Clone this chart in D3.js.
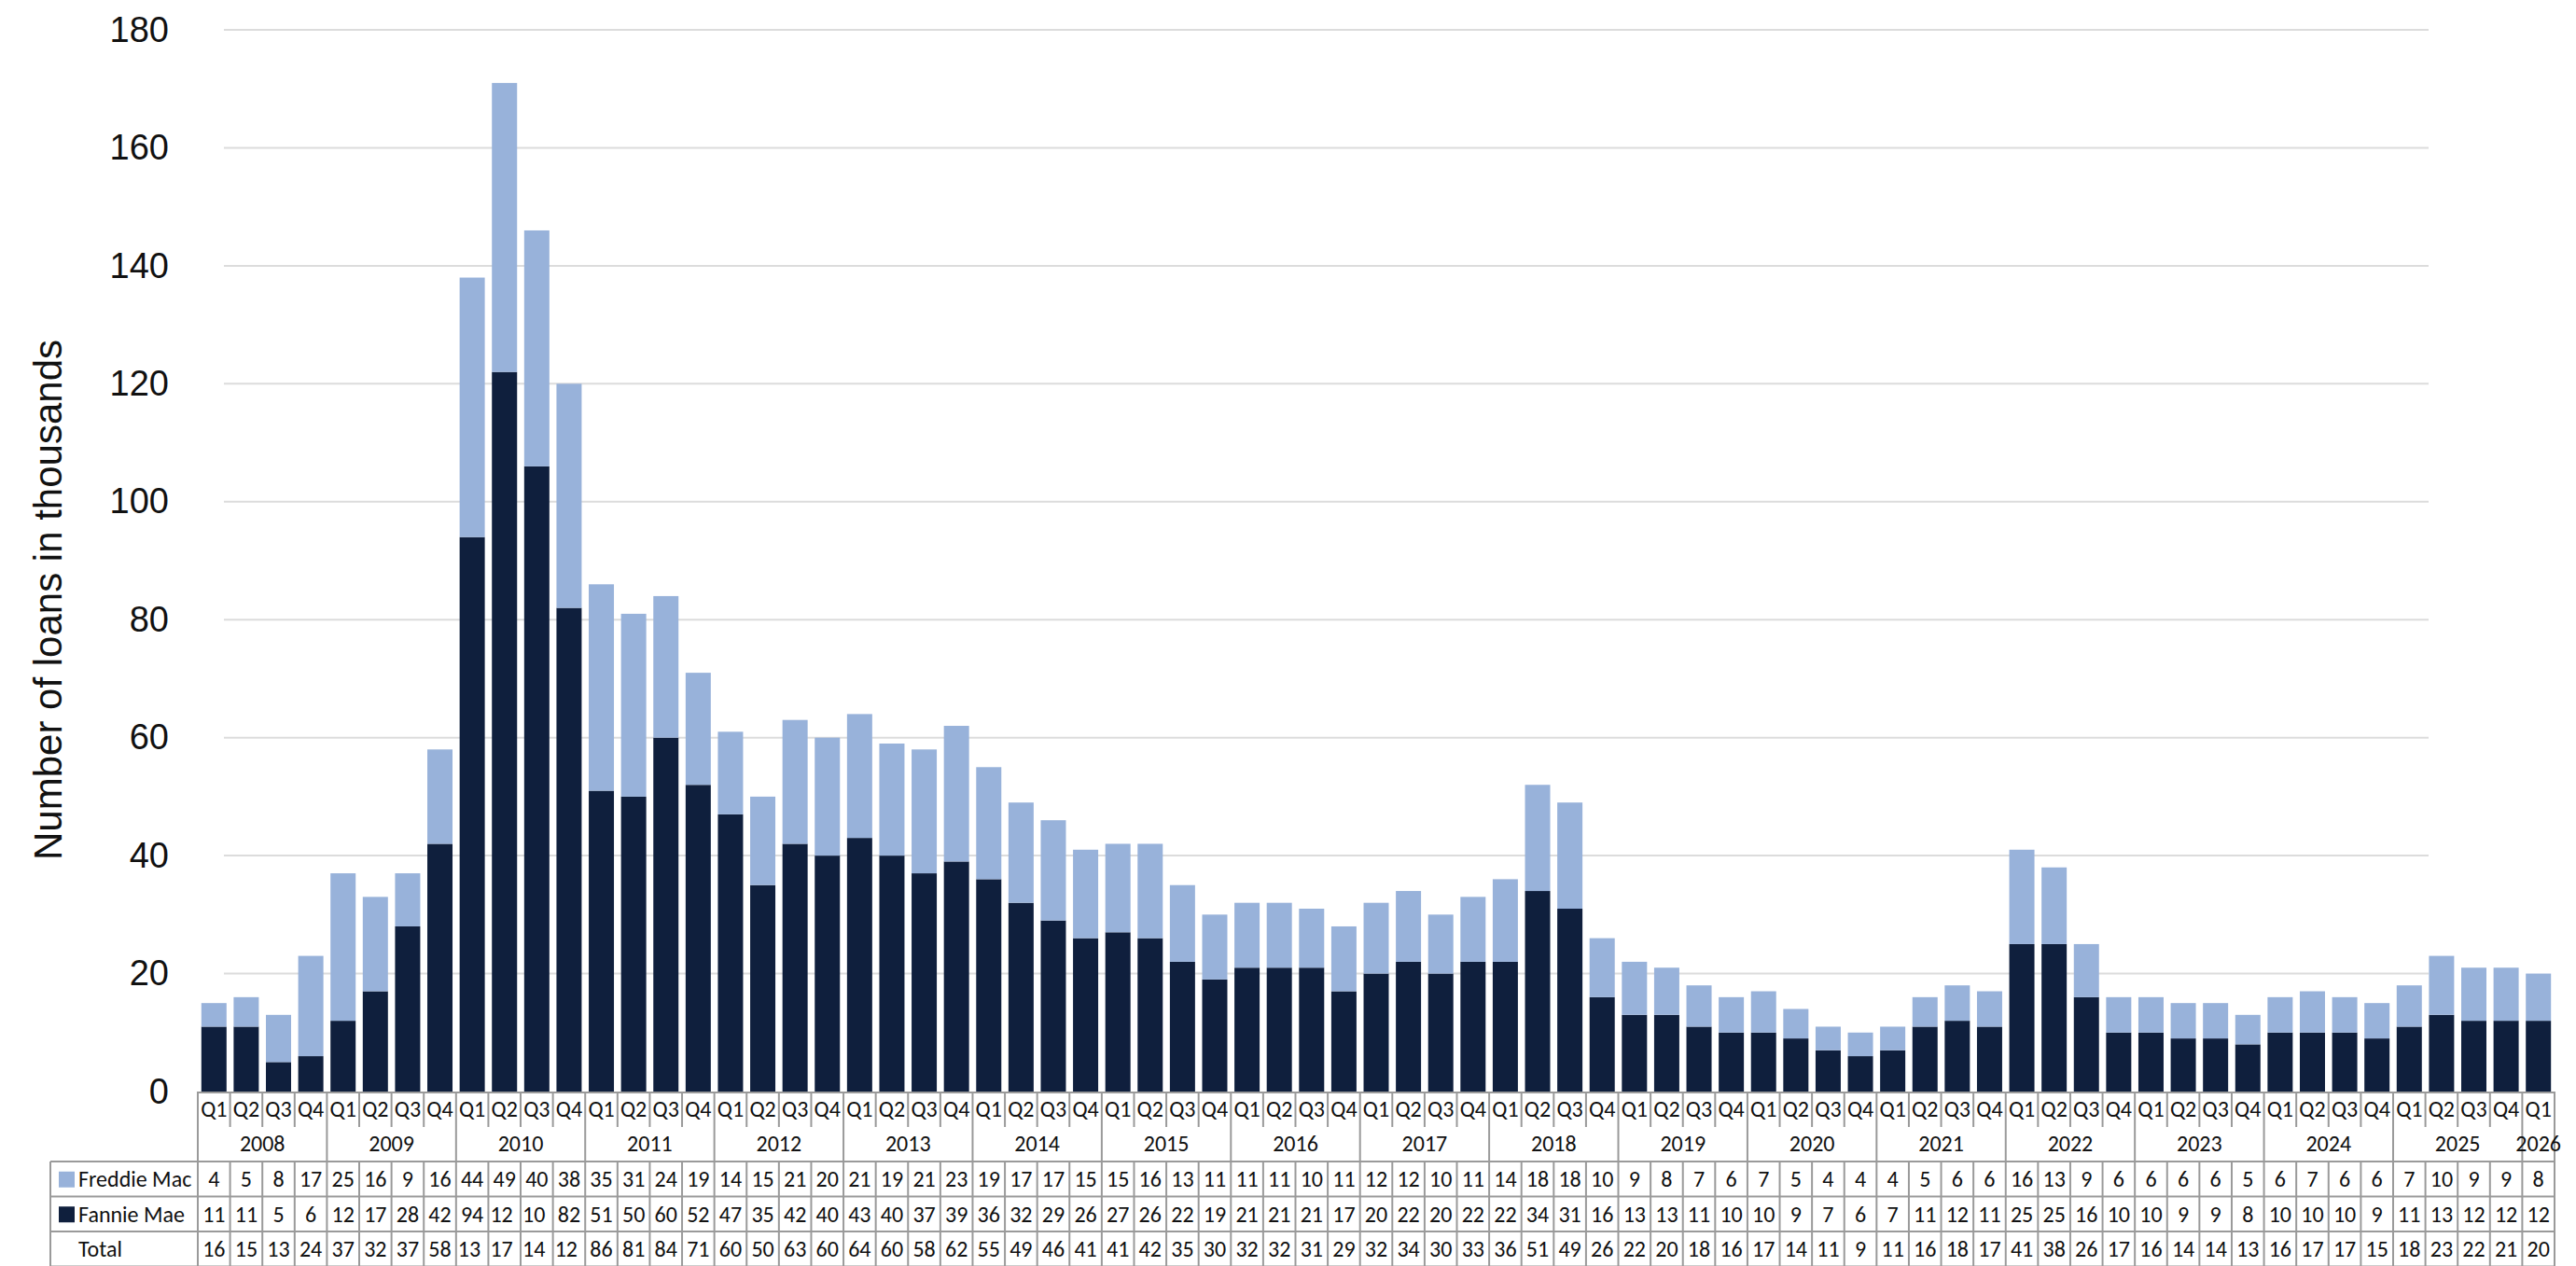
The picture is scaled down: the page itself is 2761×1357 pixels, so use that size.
<!DOCTYPE html>
<html>
<head>
<meta charset="utf-8">
<script src="https://cdn.jsdelivr.net/npm/d3@7/dist/d3.min.js"></script>
<style>
  html, body { margin: 0; padding: 0; background: #ffffff; }
  svg { display: block; }
</style>
</head>
<body>
<svg id="chart" width="2761" height="1357"></svg>
<script>
// Quarterly loan counts (thousands), Q1 2008 through Q1 2026
const years = ["2008","2009","2010","2011","2012","2013","2014","2015","2016",
               "2017","2018","2019","2020","2021","2022","2023","2024","2025","2026"];
const quarterLabels = ["Q1","Q2","Q3","Q4"];

const freddieMac = [4,5,8,17, 25,16,9,16, 44,49,40,38, 35,31,24,19, 14,15,21,20,
                    21,19,21,23, 19,17,17,15, 15,16,13,11, 11,11,10,11, 12,12,10,11,
                    14,18,18,10, 9,8,7,6, 7,5,4,4, 4,5,6,6, 16,13,9,6,
                    6,6,6,5, 6,7,6,6, 7,10,9,9, 8];

const fannieMae = [11,11,5,6, 12,17,28,42, 94,122,106,82, 51,50,60,52, 47,35,42,40,
                   43,40,37,39, 36,32,29,26, 27,26,22,19, 21,21,21,17, 20,22,20,22,
                   22,34,31,16, 13,13,11,10, 10,9,7,6, 7,11,12,11, 25,25,16,10,
                   10,9,9,8, 10,10,10,9, 11,13,12,12, 12];

const totals = [16,15,13,24, 37,32,37,58, 138,171,146,120, 86,81,84,71, 60,50,63,60,
                64,60,58,62, 55,49,46,41, 41,42,35,30, 32,32,31,29, 32,34,30,33,
                36,51,49,26, 22,20,18,16, 17,14,11,9, 11,16,18,17, 41,38,26,17,
                16,14,14,13, 16,17,17,15, 18,23,22,21, 20];

const yTicks = [0,20,40,60,80,100,120,140,160,180];

const colors = { "Freddie Mac": "#98b2da", "Fannie Mae": "#0f1f3d" };

// ---- derived records ----
const periods = years.flatMap(y => quarterLabels.map(q => ({ year: y, quarter: q })))
  .slice(0, freddieMac.length)
  .map((p, i) => ({ ...p, i, "Fannie Mae": fannieMae[i], "Freddie Mac": freddieMac[i], total: totals[i] }));

const svg = d3.select("#chart");

const plotLeft = 212, plotRight = 2738;
const yBase = 1170, yTop = 32;

const x = d3.scaleBand()
  .domain(periods.map(d => d.i))
  .range([plotLeft, plotRight])
  .paddingInner(0.22)
  .paddingOuter(0.11);

const y = d3.scaleLinear().domain([0, 180]).range([yBase, yTop]);

const step = x.step();
const colLeft = i => x(i) - (step - x.bandwidth()) / 2;

// ---- gridlines ----
const gridLeft = 240, gridRight = 2603;
svg.append("g")
  .selectAll("line")
  .data(yTicks.filter(t => t > 0))
  .join("line")
  .attr("x1", gridLeft).attr("x2", gridRight)
  .attr("y1", d => y(d)).attr("y2", d => y(d))
  .attr("stroke", "#dcdcdc")
  .attr("stroke-width", 2);

// ---- y axis labels ----
const yAxis = d3.axisLeft(y).tickValues(yTicks).tickSize(0).tickPadding(0);
const yAxisG = svg.append("g").attr("transform", "translate(181,0)").call(yAxis);
yAxisG.select(".domain").remove();
yAxisG.selectAll("text")
  .attr("font-family", "'Liberation Sans', Arial, sans-serif")
  .attr("font-size", 38)
  .attr("fill", "#111");

svg.append("text")
  .attr("transform", `translate(66,643) rotate(-90)`)
  .attr("text-anchor", "middle")
  .attr("font-family", "'Liberation Sans', Arial, sans-serif")
  .attr("font-size", 42)
  .attr("fill", "#111")
  .text("Number of loans in thousands");

// ---- stacked bars ----
const stack = d3.stack().keys(["Fannie Mae", "Freddie Mac"]);
const layers = stack(periods);

svg.append("g")
  .selectAll("g")
  .data(layers)
  .join("g")
  .attr("fill", d => colors[d.key])
  .selectAll("rect")
  .data(d => d)
  .join("rect")
  .attr("x", d => x(d.data.i))
  .attr("width", x.bandwidth())
  .attr("y", d => y(d[1]))
  .attr("height", d => y(d[0]) - y(d[1]));

// ---- category axis + data table ----
const tableFont = "Carlito, Lato, 'Open Sans', sans-serif";
const cellFontSize = 24;
const lineColor = "#9a9a9a";
const qRowY = 1189, yearRowY = 1226;
const tableTop = 1245, rowH = 37.5;
const tableBottom = 1357;
const labelLeft = 54;

const grid = svg.append("g").attr("stroke", lineColor).attr("stroke-width", 2);

// axis line under bars
grid.append("line").attr("x1", plotLeft).attr("x2", plotRight).attr("y1", yBase + 1).attr("y2", yBase + 1);

// quarter separators (short) and year separators (full height)
periods.forEach(p => {
  const xl = colLeft(p.i);
  if (p.quarter === "Q1") {
    grid.append("line").attr("x1", xl).attr("x2", xl).attr("y1", yBase).attr("y2", tableBottom);
  } else {
    grid.append("line").attr("x1", xl).attr("x2", xl).attr("y1", yBase).attr("y2", 1208);
    grid.append("line").attr("x1", xl).attr("x2", xl).attr("y1", tableTop).attr("y2", tableBottom);
  }
});
grid.append("line").attr("x1", plotRight).attr("x2", plotRight).attr("y1", yBase).attr("y2", tableBottom);

// table horizontal rules
[0, 1, 2, 3].forEach(r => {
  const yy = tableTop + r * rowH;
  grid.append("line").attr("x1", labelLeft).attr("x2", plotRight).attr("y1", yy).attr("y2", yy);
});
grid.append("line").attr("x1", labelLeft).attr("x2", labelLeft).attr("y1", tableTop).attr("y2", tableBottom);
grid.append("line").attr("x1", plotLeft).attr("x2", plotLeft).attr("y1", tableTop).attr("y2", tableBottom);

// quarter labels
svg.append("g")
  .selectAll("text")
  .data(periods)
  .join("text")
  .attr("x", d => x(d.i) + x.bandwidth() / 2)
  .attr("y", qRowY)
  .attr("dy", "0.35em")
  .attr("text-anchor", "middle")
  .attr("font-family", tableFont)
  .attr("font-size", cellFontSize)
  .attr("fill", "#111")
  .text(d => d.quarter);

// year labels, centred under their quarters
const yearGroups = d3.groups(periods, d => d.year);
svg.append("g")
  .selectAll("text")
  .data(yearGroups)
  .join("text")
  .attr("x", d => {
    const first = d[1][0].i, last = d[1][d[1].length - 1].i;
    return (colLeft(first) + colLeft(last) + step) / 2;
  })
  .attr("y", yearRowY)
  .attr("dy", "0.35em")
  .attr("text-anchor", "middle")
  .attr("font-family", tableFont)
  .attr("font-size", cellFontSize)
  .attr("fill", "#111")
  .text(d => d[0]);

// table rows
const rows = [
  { name: "Freddie Mac", key: "Freddie Mac", swatch: colors["Freddie Mac"] },
  { name: "Fannie Mae", key: "Fannie Mae", swatch: colors["Fannie Mae"] },
  { name: "Total", key: "total", swatch: null }
];

const rowG = svg.append("g")
  .selectAll("g")
  .data(rows)
  .join("g")
  .attr("transform", (d, r) => `translate(0,${tableTop + r * rowH + rowH / 2})`);

rowG.filter(d => d.swatch)
  .append("rect")
  .attr("x", 63).attr("y", -8)
  .attr("width", 17).attr("height", 17)
  .attr("fill", d => d.swatch);

rowG.append("text")
  .attr("x", 84)
  .attr("dy", "0.35em")
  .attr("font-family", tableFont)
  .attr("font-size", 24)
  .attr("fill", "#111")
  .text(d => d.name);

// cell values: show as many characters as fit inside the cell
const cellText = rowG.selectAll("text.cell")
  .data(row => periods.map(p => ({ v: p[row.key], i: p.i })))
  .join("text")
  .attr("class", "cell")
  .attr("x", d => x(d.i) + x.bandwidth() / 2)
  .attr("dy", "0.35em")
  .attr("text-anchor", "middle")
  .attr("font-family", tableFont)
  .attr("font-size", cellFontSize)
  .attr("fill", "#111")
  .text(d => String(d.v));

const maxW = step - 3;
cellText.each(function (d) {
  const t = d3.select(this);
  let s = String(d.v);
  if (this.getComputedTextLength() > maxW) {
    t.attr("text-anchor", "start").attr("x", colLeft(d.i) + 2);
    while (s.length > 1 && this.getComputedTextLength() > maxW) {
      s = s.slice(0, -1);
      t.text(s);
    }
  }
});
</script>
</body>
</html>
